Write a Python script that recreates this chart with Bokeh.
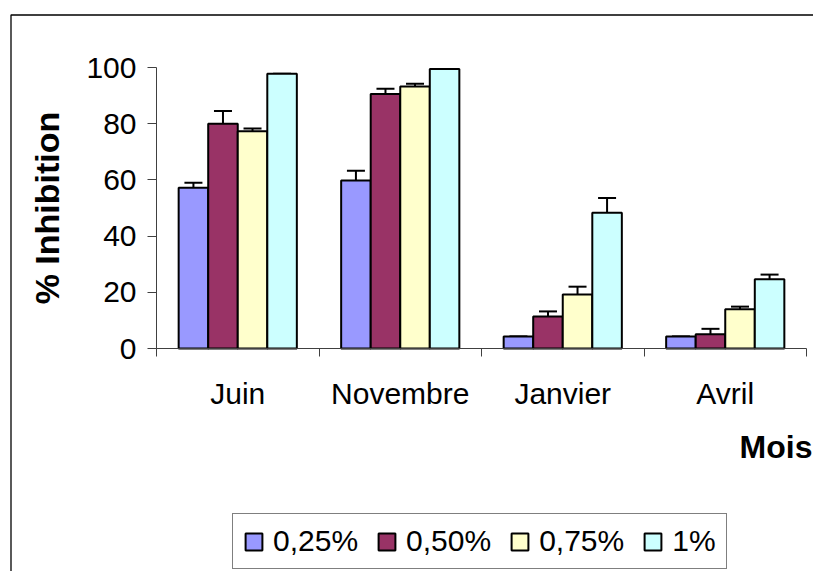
from bokeh.plotting import figure
from bokeh.models import (Range1d, FixedTicker, ColumnDataSource, Whisker, TeeHead,
                          Legend, LegendItem, Label, BoxAnnotation)
from bokeh.embed import file_html
from bokeh.resources import INLINE

months = ["Juin", "Novembre", "Janvier", "Avril"]
series = ["0,25%", "0,50%", "0,75%", "1%"]
inh_025 = [57.2, 59.8, 4.3, 4.3]
inh_050 = [80.0, 90.6, 11.4, 5.1]
inh_075 = [77.3, 93.2, 19.2, 14.0]
inh_100 = [97.8, 99.5, 48.3, 24.6]
err_025 = [1.8, 3.5, 0.0, 0.0]
err_050 = [4.5, 1.8, 1.8, 1.9]
err_075 = [1.0, 1.0, 2.8, 0.9]
err_100 = [0.0, 0.0, 5.3, 1.7]
y_ticks = [0, 20, 40, 60, 80, 100]

values = [inh_025, inh_050, inh_075, inh_100]
errors = [err_025, err_050, err_075, err_100]
colors = ["#9999FF", "#993366", "#FFFFCC", "#CCFFFF"]

FONT = "Liberation Sans"
n_cat = len(months)
bar_w = 1 / 5.5

# page layout (pixels): the frame fills the whole canvas; axes are pinned at 0
W, H = 813, 571
X0_PX, PX_PER_CAT = 156, 162.5      # where category 0 starts, width of a category
Y0_PX, PX_PER_PCT = 348, 2.81       # where 0 % lies, pixels per percent
x_rng = Range1d(-X0_PX / PX_PER_CAT, (W - X0_PX) / PX_PER_CAT)
y_rng = Range1d(-(H - Y0_PX) / PX_PER_PCT, Y0_PX / PX_PER_PCT)

p = figure(width=W, height=H, output_backend="svg", toolbar_location=None,
           x_range=x_rng, y_range=y_rng,
           min_border_left=0, min_border_right=0, min_border_top=0, min_border_bottom=0)
p.outline_line_color = None
p.xgrid.grid_line_color = None
p.ygrid.grid_line_color = None
p.background_fill_color = "white"
p.border_fill_color = "white"

# y axis
ya = p.yaxis[0]
ya.fixed_location = 0
ya.bounds = (0, 100)
ya.ticker = FixedTicker(ticks=y_ticks)
ya.major_tick_out = 9
ya.major_tick_in = 0
ya.minor_tick_out = 0
ya.minor_tick_in = 0
ya.axis_line_color = "#404040"
ya.major_tick_line_color = "#404040"
ya.major_label_text_font = FONT
ya.major_label_text_font_size = "30px"
ya.major_label_text_color = "black"
ya.major_label_standoff = 11
ya.axis_label = "% Inhibition"
ya.axis_label_text_font = FONT
ya.axis_label_text_font_style = "bold"
ya.axis_label_text_font_size = "34px"
ya.axis_label_text_color = "black"
ya.axis_label_standoff = 17

# x axis
xa = p.xaxis[0]
xa.fixed_location = 0
xa.bounds = (0, n_cat)
centers = [i + 0.5 for i in range(n_cat)]
xa.ticker = FixedTicker(ticks=centers, minor_ticks=list(range(n_cat + 1)))
xa.major_label_overrides = {c: m for c, m in zip(centers, months)}
xa.major_tick_out = 0
xa.major_tick_in = 0
xa.minor_tick_out = 8
xa.minor_tick_in = 0
xa.axis_line_color = "#404040"
xa.minor_tick_line_color = "#404040"
xa.major_label_text_font = FONT
xa.major_label_text_font_size = "30px"
xa.major_label_text_color = "black"
xa.major_label_standoff = 20

items = []
for j, (name, vals, errs, col) in enumerate(zip(series, values, errors, colors)):
    xs = [i + 0.5 + (j - 1.5) * bar_w for i in range(n_cat)]
    src = ColumnDataSource(dict(x=xs, top=vals, upper=[v + e for v, e in zip(vals, errs)]))
    r = p.vbar(x="x", top="top", width=bar_w, bottom=0, source=src,
               fill_color=col, line_color="black", line_width=2)
    w = Whisker(base="x", lower="top", upper="upper", dimension="height", source=src,
                line_color="black", line_width=2, lower_head=None,
                upper_head=TeeHead(size=18, line_color="black", line_width=2))
    p.add_layout(w)
    items.append(LegendItem(label=name, renderers=[r]))

legend = Legend(items=items, orientation="horizontal", location=(232, 2),
                label_text_font=FONT, label_text_font_size="30px", label_text_color="black",
                glyph_width=21, glyph_height=21, label_standoff=9, spacing=18,
                padding=10, margin=0, border_line_color="black", border_line_width=1,
                background_fill_color="white", background_fill_alpha=1.0)
p.add_layout(legend, "center")

p.add_layout(Label(x=812, y=H - 446, x_units="screen", y_units="screen", text="Mois",
                   text_align="right", text_baseline="alphabetic",
                   text_font=FONT, text_font_style="bold", text_font_size="32px",
                   text_color="black"))

# outer chart border (its right and bottom sides lie beyond the window)
p.add_layout(BoxAnnotation(left=10.5, right=5000, top=14.5, bottom=5000,
                           left_units="canvas", right_units="canvas",
                           top_units="canvas", bottom_units="canvas",
                           fill_alpha=0, line_color="black", line_alpha=1.0, line_width=1.3))

open("out.html", "w").write(file_html(p, INLINE))
